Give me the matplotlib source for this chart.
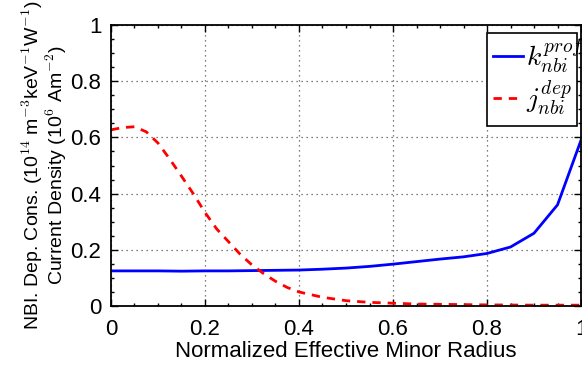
import numpy as np
import matplotlib
matplotlib.use("Agg")
import matplotlib.pyplot as plt
import matplotlib.patches as mpatches
from matplotlib.ticker import MultipleLocator

plt.rcParams['font.family'] = ['Liberation Sans', 'DejaVu Sans']
plt.rcParams['mathtext.fontset'] = 'cm'

# profiles
rho_k = [0.0, 0.05, 0.1, 0.15, 0.2, 0.25, 0.3, 0.35, 0.4, 0.45, 0.5,
         0.55, 0.6, 0.65, 0.7, 0.75, 0.8, 0.85, 0.9, 0.95, 1.0]
k_prof = [0.125, 0.125, 0.125, 0.124, 0.125, 0.125, 0.126, 0.127, 0.128, 0.131, 0.135,
          0.141, 0.149, 0.158, 0.167, 0.175, 0.187, 0.210, 0.259, 0.360, 0.590]

rho_j = [0.0, 0.025, 0.05, 0.075, 0.1, 0.125, 0.15, 0.175, 0.2, 0.225, 0.25,
         0.275, 0.3, 0.325, 0.35, 0.375, 0.4, 0.45, 0.5, 0.55, 0.6,
         0.65, 0.7, 0.8, 0.9, 1.0]
j_dep = [0.627, 0.635, 0.638, 0.620, 0.580, 0.523, 0.462, 0.400, 0.333, 0.274, 0.229,
         0.184, 0.146, 0.115, 0.088, 0.066, 0.050, 0.031, 0.019, 0.013, 0.010,
         0.007, 0.006, 0.004, 0.003, 0.003]

xticks = [0, 0.2, 0.4, 0.6, 0.8, 1.0]
xticklabels = ['0', '0.2', '0.4', '0.6', '0.8', '1']
yticks = [0, 0.2, 0.4, 0.6, 0.8, 1.0]
yticklabels = ['0', '0.2', '0.4', '0.6', '0.8', '1']

fig = plt.figure(figsize=(5.82, 3.69), dpi=100)
ax = fig.add_axes([0.1907, 0.1707, 0.8076, 0.7615])

ax.plot(rho_k, k_prof, color='#0000ff', lw=2, label=r'$k_{nbi}^{prof}$')
ax.plot(rho_j, j_dep, color='#ff0000', lw=2, ls=(0, (3, 2.5)), label=r'$j_{nbi}^{dep}$')

ax.set_xlim(0, 1)
ax.set_ylim(0, 1)
ax.set_xticks(xticks)
ax.set_xticklabels(xticklabels)
ax.set_yticks(yticks)
ax.set_yticklabels(yticklabels)
ax.xaxis.set_minor_locator(MultipleLocator(0.05))
ax.yaxis.set_minor_locator(MultipleLocator(0.05))
ax.tick_params(which='both', direction='in', top=True, right=True, labelsize=16, width=1)
ax.tick_params(axis='x', pad=9)
ax.tick_params(axis='y', pad=7)
ax.tick_params(which='major', length=5)
ax.tick_params(which='minor', length=2.5)
ax.grid(True, which='major', ls=(0, (1, 3)), color='#555555', lw=0.9)
for s in ax.spines.values():
    s.set_linewidth(1.3)

ax.set_xlabel('Normalized Effective Minor Radius', fontsize=16, labelpad=1)
ax.set_ylabel('NBI. Dep. Cons. (10$^{14}$ m$^{-3}$keV$^{-1}$W$^{-1}$)\nCurrent Density (10$^{6}$ Am$^{-2}$)',
              fontsize=14, labelpad=1, linespacing=0.95)

# legend box like the original (text spills past the frame)
leg = ax.legend(loc='upper left', bbox_to_anchor=(0.8128, 0.96), fontsize=20,
                frameon=False, handlelength=1.08, borderpad=0, borderaxespad=0,
                labelspacing=0.14, handletextpad=0.12)
frame = mpatches.Rectangle((376 / 470, 1 - 101 / 281), 90 / 470, 93 / 281,
                           transform=ax.transAxes, fill=True, facecolor='white',
                           edgecolor='black', lw=1.2, zorder=4)
ax.add_patch(frame)
leg.set_zorder(5)

fig.savefig('out.png', dpi=100)
